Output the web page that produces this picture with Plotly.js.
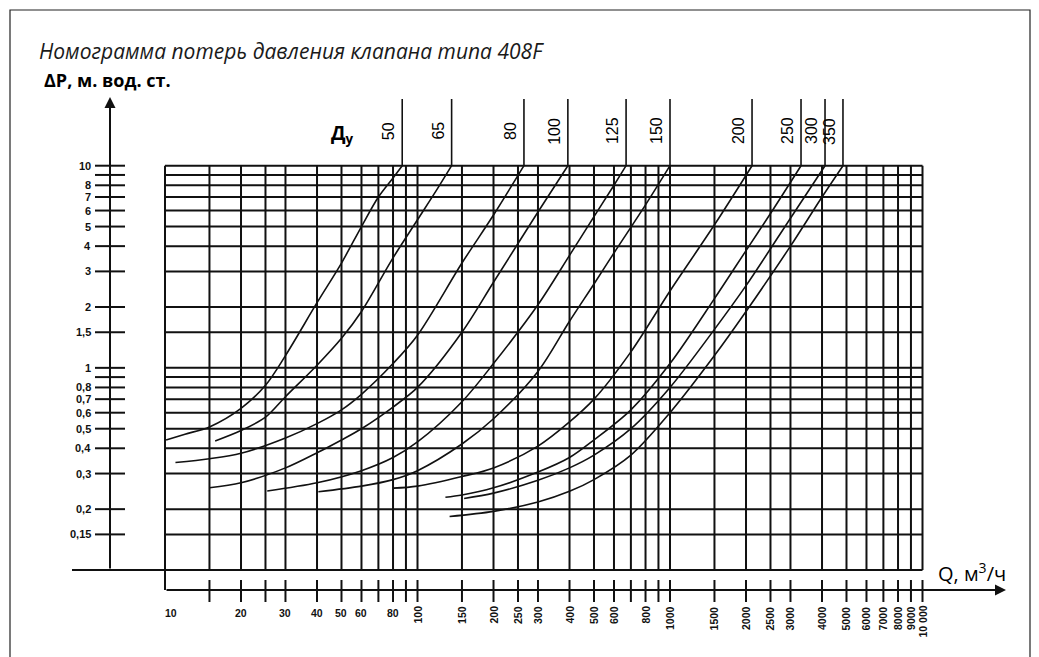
<!DOCTYPE html>
<html><head><meta charset="utf-8">
<script src="https://cdn.plot.ly/plotly-3.0.1.min.js"></script>
<style>html,body{margin:0;padding:0;background:#fff;}#chart{width:1039px;height:657px;}</style>
</head><body><div id="chart"></div>
<script>
// ---- data ----
const sizes = ['50','65','80','100','125','150','200','250','300','350'];
const q50  = [10.1, 12, 15, 20, 25, 30, 40, 50, 60, 70, 80, 87];
const dp50 = [0.44, 0.47, 0.51, 0.63, 0.82, 1.15, 2.1, 3.3, 5.0, 7.0, 8.7, 10];
const q65  = [15.8, 20, 25, 30, 40, 50, 60, 80, 100, 120, 136.5];
const dp65 = [0.435, 0.49, 0.57, 0.72, 1.03, 1.4, 1.9, 3.5, 5.4, 7.7, 10];
const q80  = [11, 15, 20, 30, 40, 50, 60, 80, 100, 150, 200, 264];
const dp80 = [0.34, 0.355, 0.378, 0.45, 0.53, 0.62, 0.74, 1.05, 1.45, 3.3, 5.7, 10];
const q100  = [15, 20, 30, 40, 50, 60, 80, 100, 150, 200, 300, 394];
const dp100 = [0.255, 0.27, 0.32, 0.38, 0.44, 0.5, 0.64, 0.8, 1.5, 2.65, 5.9, 10];
const q125  = [25.4, 40, 60, 80, 100, 150, 200, 300, 400, 500, 600, 670];
const dp125 = [0.246, 0.27, 0.31, 0.36, 0.43, 0.68, 1.05, 2.05, 3.6, 5.6, 8.0, 10];
const q150  = [40.5, 60, 80, 100, 150, 200, 300, 400, 500, 600, 800, 1000];
const dp150 = [0.244, 0.26, 0.28, 0.31, 0.42, 0.56, 0.96, 1.7, 2.6, 3.7, 6.4, 10];
const q200  = [80.3, 100, 150, 200, 300, 400, 500, 700, 1000, 1500, 2113];
const dp200 = [0.254, 0.26, 0.29, 0.32, 0.41, 0.54, 0.7, 1.2, 2.4, 5.1, 10];
const q250  = [129, 150, 200, 300, 400, 500, 700, 1000, 1500, 2000, 2500, 3303];
const dp250 = [0.229, 0.235, 0.255, 0.305, 0.36, 0.44, 0.62, 1.05, 2.2, 3.8, 5.8, 10];
const q300  = [153, 200, 300, 400, 500, 700, 1000, 1500, 2000, 3000, 4111];
const dp300 = [0.226, 0.24, 0.278, 0.32, 0.37, 0.5, 0.8, 1.55, 2.55, 5.5, 10];
const q350  = [134, 200, 300, 400, 500, 700, 1000, 1500, 2000, 3000, 4000, 4842];
const dp350 = [0.184, 0.195, 0.217, 0.245, 0.28, 0.37, 0.6, 1.15, 1.9, 4.0, 7.0, 10];

const gridQ  = [10,15,20,25,30,40,50,60,70,80,90,100,150,200,250,300,400,500,600,700,800,900,1000,1500,2000,2500,3000,4000,5000,6000,7000,8000,9000,10000];
const gridDP = [0.15,0.2,0.3,0.4,0.5,0.6,0.7,0.8,0.9,1,1.5,2,3,4,5,6,7,8,9,10];
const yTickVals = [10,9,8,7,6,5,4,3,2,1.5,1,0.9,0.8,0.7,0.6,0.5,0.4,0.3,0.2,0.15];
const yTickText = ['10','','8','7','6','5','4','3','2','1,5','1','','0,8','0,7','0,6','0,5','0,4','0,3','0,2','0,15'];
const xTickVals = [15,20,25,30,40,50,60,70,80,90,100,150,200,250,300,400,500,600,700,800,900,1000,1500,2000,2500,3000,4000,5000,6000,7000,8000,9000,10000];
const xFlatVals = [10,20,30,40,50,60,80];
const xFlatText = ['10','20','30','40','50','60','80'];
const xRotVals = [100,150,200,250,300,400,500,600,800,1000,1500,2000,2500,3000,4000,5000,6000,7000,8000,9000,10000];
const xRotText = ['100','150','200','250','300','400','500','600','800','1000','1500','2000','2500','3000','4000','5000','6000','7000','8000','9000','10 000'];

const titleText = 'Номограмма потерь давления клапана типа 408F';
const yTitle = 'ΔP, м. вод. ст.';
const xTitle = 'Q, м<sup>3</sup>/ч';
const duTitle = 'Д<sub>у</sub>';

// ---- geometry ----
const W = 1039, H = 657;
const X0 = 165, XDEC = 252.5;      // pixel of Q=10, px per decade
const Y1 = 367.85, YDEC = 202.15;  // pixel of dP=1, px per decade
const xr = [1 - X0/XDEC, 1 + (W - X0)/XDEC];
const yr = [(Y1 - H)/YDEC, Y1/YDEC];
const px = p => p / W;
const py = p => 1 - p / H;
const qAt = p => Math.pow(10, 1 + (p - X0)/XDEC);
const dpAt = p => Math.pow(10, (Y1 - p)/YDEC);
const lg = Math.log10;

const series = [[q50,dp50],[q65,dp65],[q80,dp80],[q100,dp100],[q125,dp125],[q150,dp150],[q200,dp200],[q250,dp250],[q300,dp300],[q350,dp350]];
const ink = '#111111';

const traces = series.map((s,i) => ({
  x: s[0], y: s[1], type:'scatter', mode:'lines', name:'Ду '+sizes[i],
  line:{color:ink, width:1.6, shape:'spline', smoothing:0.9}, hoverinfo:'x+y+name'
}));

const shapes = [];
const L = (o, w) => shapes.push(Object.assign({type:'line', line:{color:ink, width:w||2}, layer:'below'}, o));
// outer frame
shapes.push({type:'rect', xref:'paper', yref:'paper', x0:px(10), x1:px(1030), y0:py(10), y1:py(665), line:{color:'#222', width:1.2}});
// horizontal grid
gridDP.forEach(d => L({xref:'x', yref:'y', x0:10, x1:10000, y0:d, y1:d}));
// bottom line (dP = 0.1) extends left beyond the axis
L({xref:'x', yref:'y', x0:qAt(72), x1:10000, y0:0.1, y1:0.1});
// vertical grid
gridQ.forEach(q => L({xref:'x', yref:'y', x0:q, x1:q, y0: q===10 ? dpAt(590) : 0.1, y1:10}));
// y-axis ticks
yTickVals.forEach(d => L({xref:'paper', yref:'y', x0:px(95), x1:px(125), y0:d, y1:d}));
// lower Q-axis ticks
xTickVals.forEach(q => L({xref:'x', yref:'paper', x0:q, x1:q, y0:py(580), y1:py(602)}));
// Du rising lines at the end of each curve
series.forEach(s => { const qt = s[0][s[0].length-1]; L({xref:'x', yref:'y', x0:qt, x1:qt, y0:10, y1:dpAt(99)}, 1.6); });

const ann = [];
const lab = 'Liberation Sans, Arial, sans-serif';
// axis arrows
ann.push({xref:'paper', yref:'paper', x:px(110), y:py(97), ax:0, ay:473, showarrow:true, arrowhead:2, arrowsize:1.1, arrowwidth:2, arrowcolor:ink, text:''});
ann.push({xref:'paper', yref:'paper', x:px(1006), y:py(590), ax:-841, ay:0, showarrow:true, arrowhead:2, arrowsize:1.1, arrowwidth:2, arrowcolor:ink, text:''});
// y tick labels (annotation positions on log axes are given in log10 units)
yTickVals.forEach((d,i) => { if (yTickText[i]) ann.push({xref:'paper', yref:'y', x:px(93), y:lg(d), xanchor:'right', yanchor:'middle', showarrow:false, text:'<b>'+yTickText[i]+'</b>', font:{family:lab, size:11, color:'#111'}}); });
// x tick labels
xFlatVals.forEach((q,i) => ann.push({xref:'x', yref:'paper', x:lg(q), y:py(613), xanchor:'center', yanchor:'middle', xshift: q===10?6:0, showarrow:false, text:'<b>'+xFlatText[i]+'</b>', font:{family:lab, size:10.5, color:'#111'}}));
xRotVals.forEach((q,i) => ann.push({xref:'x', yref:'paper', x:lg(q), y:py(604), xanchor:'center', yanchor:'top', textangle:-90, showarrow:false, text:'<b>'+xRotText[i]+'</b>', font:{family:lab, size:10.5, color:'#111'}}));
// Du labels
series.forEach((s,i) => { const qt = s[0][s[0].length-1]; ann.push({xref:'x', yref:'paper', x:lg(qt), y:py(131), xshift:-13, xanchor:'center', yanchor:'middle', textangle:-90, showarrow:false, text:sizes[i], font:{family:lab, size:16, color:'#000'}}); });
ann.push({xref:'paper', yref:'paper', x:px(329), y:py(134), xanchor:'left', yanchor:'middle', showarrow:false, text:'<b>'+duTitle+'</b>', font:{family:'Open Sans, sans-serif', size:19, color:'#000'}});
// titles
ann.push({xref:'paper', yref:'paper', x:px(37), y:py(51), xanchor:'left', yanchor:'middle', showarrow:false, text:'<i>'+titleText+'</i>', font:{family:'Open Sans, sans-serif', size:21, color:'#1a1a1a'}});
ann.push({xref:'paper', yref:'paper', x:px(42), y:py(80), xanchor:'left', yanchor:'middle', showarrow:false, text:'<b>'+yTitle+'</b>', font:{family:'Open Sans, sans-serif', size:18, color:'#000'}});
ann.push({xref:'paper', yref:'paper', x:px(936), y:py(572), xanchor:'left', yanchor:'middle', showarrow:false, text:xTitle, font:{family:'Open Sans, sans-serif', size:20, color:'#000'}});

const layout = {
  width:W, height:H, margin:{l:0,r:0,t:0,b:0}, paper_bgcolor:'#fff', plot_bgcolor:'#fff', showlegend:false,
  xaxis:{type:'log', range:xr, visible:false, fixedrange:true},
  yaxis:{type:'log', range:yr, visible:false, fixedrange:true},
  shapes: shapes, annotations: ann
};
Plotly.newPlot('chart', traces, layout, {staticPlot:true, displayModeBar:false});
</script></body></html>
